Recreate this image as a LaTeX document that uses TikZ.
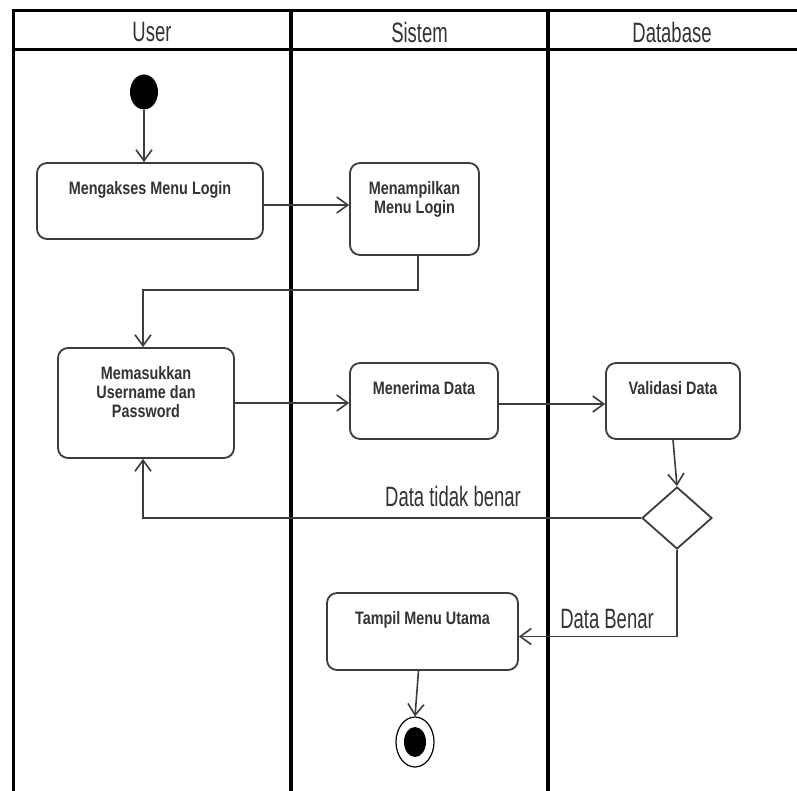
\documentclass[tikz,border=0pt]{standalone}
\usepackage{fontspec}
\usetikzlibrary{arrows.meta,shapes.geometric}
\newfontfamily\hdfont[FakeStretch=0.8]{Liberation Sans}
\newfontfamily\lbfont[FakeStretch=0.66]{Liberation Sans}
\definecolor{ink}{HTML}{333333}
\definecolor{edge}{HTML}{3C3C3C}
\newcommand\bt[3]{\parbox[c][#2pt][t]{#1pt}{\centering\vspace*{18pt}#3\par}}
\begin{document}
\begin{tikzpicture}[x=1pt,y=-1pt,
  lane/.style={black, line width=4pt},
  frame/.style={black, line width=3pt},
  act/.style={draw=edge, line width=1.8pt, rounded corners=10pt, inner sep=0pt, text=ink,
    font=\hdfont\bfseries\fontsize{18}{19}\selectfont},
  flow/.style={draw=edge, line width=1.6pt, -{Straight Barb[length=11pt,width=16pt]}},
  hd/.style={text=ink, font=\lbfont\fontsize{28}{30}\selectfont, inner sep=0pt},
  guard/.style={hd}
]
\useasboundingbox[fill=white] (0,0) rectangle (797,791);
% frame and lanes
\draw[frame] (13,791) -- (13,11) -- (797,11);
\draw[frame] (13,50) -- (797,50);
\draw[lane] (291,11) -- (291,791);
\draw[lane] (548,11) -- (548,791);
% headers
\node[hd] (hu) at (152,32) {User};
\node[hd] (hs) at (419.5,32) {Sistem};
\node[hd] (hdb) at (672,32) {Database};
% nodes
\node[ellipse, fill=black, minimum width=28pt, minimum height=35pt, inner sep=0pt] (start) at (144,92) {};
\node[act] (m1) at (150,201) {\bt{226}{76}{Mengakses Menu Login}};
\node[act] (m2) at (414.5,209) {\bt{129}{92}{Menampilkan\\Menu Login}};
\node[act] (m3) at (146,403) {\bt{176}{110}{Memasukkan\\Username dan\\Password}};
\node[act] (m4) at (424,401) {\bt{148}{76}{Menerima Data}};
\node[act] (m5) at (673,401) {\bt{134}{76}{Validasi Data}};
\node[diamond, draw=edge, line width=1.8pt, minimum width=70pt, minimum height=62pt, inner sep=0pt, aspect=1.13] (dia) at (677,518) {};
\node[act] (m6) at (422.5,631.5) {\bt{191}{77}{Tampil Menu Utama}};
\node[ellipse, draw=black, line width=1.2pt, minimum width=38pt, minimum height=50pt, inner sep=0pt,
  path picture={\fill[black] (path picture bounding box.center) ellipse [x radius=11pt, y radius=15pt];}] (end) at (415,742) {};
% guards
\node[guard] (g1) at (453,496) {Data tidak benar};
\node[guard] (g2) at (607,619) {Data Benar};
% connectors
\coordinate (k1) at (418,290);
\draw[flow] (start.south) -- (start.south |- m1.north);
\draw[flow] ([yshift=-4pt]m1.east) -- ([yshift=-4pt]m1.east -| m2.west);
\draw[flow] (m2.south -| k1) -- (k1) -| ([xshift=-3pt]m3.north);
\draw[flow] (m3.east) -- (m3.east -| m4.west);
\draw[flow] ([yshift=-3pt]m4.east) -- ([yshift=-3pt]m4.east -| m5.west);
\draw[flow] (m5.south) -- (dia.north);
\draw[flow] (dia.west) -| ([xshift=-3pt]m3.south);
\draw[flow] (dia.south) |- ([yshift=-5pt]m6.east);
\draw[flow] ([xshift=-4pt]m6.south) -- (end.north);
\end{tikzpicture}
\end{document}
